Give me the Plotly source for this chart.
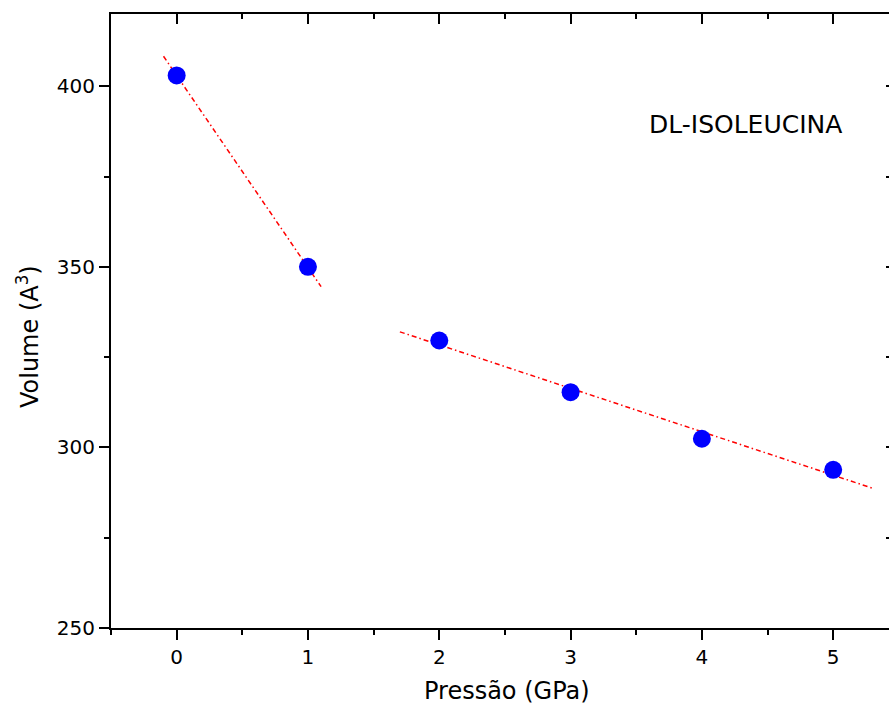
import plotly.graph_objects as go

# Data
pressure = [0, 1, 2, 3, 4, 5]
volume = [403.0, 350.0, 329.6, 315.3, 302.4, 293.8]

# Linear fit segments (endpoints)
fit1_x = [-0.1, 1.1]
fit1_y = [408.3, 344.5]
fit2_x = [1.7, 5.3]
fit2_y = [332.0, 288.7]

x_ticks = [0, 1, 2, 3, 4, 5]
y_ticks = [250, 300, 350, 400]

label_text = "DL-ISOLEUCINA"
x_title = "Pressão (GPa)"
y_title = "Volume (A<sup>3</sup>)"

FONT = "DejaVu Sans"
xr = [-0.5, 5.425]
yr = [250, 420]

fig = go.Figure()
line_style = dict(color="#FF0000", width=1.5, dash="5px,3px,1.5px,3px")
fig.add_trace(go.Scatter(x=fit1_x, y=fit1_y, mode="lines", line=line_style,
                         showlegend=False, hoverinfo="skip"))
fig.add_trace(go.Scatter(x=fit2_x, y=fit2_y, mode="lines", line=line_style,
                         showlegend=False, hoverinfo="skip"))
fig.add_trace(go.Scatter(x=pressure, y=volume, mode="markers",
                         marker=dict(color="#0000FF", size=18, line=dict(width=0)),
                         showlegend=False))
# invisible trace to anchor the mirror axes
fig.add_trace(go.Scatter(x=pressure[:1], y=volume[:1], mode="markers",
                         marker=dict(opacity=0), xaxis="x2", yaxis="y2",
                         showlegend=False, hoverinfo="skip"))

fig.add_annotation(x=4.33, y=389.5, xref="x", yref="y", text=label_text,
                   showarrow=False, font=dict(family=FONT, size=25, color="black"))
fig.add_annotation(x=(507 - 111) / 778, y=0, xref="paper", yref="paper",
                   text=x_title, showarrow=False, yanchor="middle", yshift=-63,
                   font=dict(family=FONT, size=24, color="black"))
fig.add_annotation(x=(28 - 111) / 778, y=(628 - 337) / 614, xref="paper", yref="paper",
                   text=y_title, showarrow=False, textangle=-90,
                   xanchor="center", yanchor="middle",
                   font=dict(family=FONT, size=24, color="black"))

axis_common = dict(showgrid=False, zeroline=False, linecolor="black", linewidth=2,
                   tickcolor="black", tickwidth=2)

fig.update_layout(
    width=889, height=704,
    margin=dict(l=111, r=0, t=14, b=76),
    paper_bgcolor="white", plot_bgcolor="white",
    font=dict(family=FONT, size=20, color="black"),
    xaxis=dict(range=xr, tickvals=x_ticks, ticks="outside", ticklen=10,
               showline=True, mirror=False,
               minor=dict(dtick=0.5, tick0=-0.5, ticks="outside", ticklen=5,
                          tickcolor="black", tickwidth=2),
               tickfont=dict(family=FONT, size=20), **axis_common),
    yaxis=dict(range=yr, tickvals=y_ticks, ticks="outside", ticklen=10,
               showline=True, mirror=False,
               minor=dict(dtick=25, tick0=250, ticks="outside", ticklen=5,
                          tickcolor="black", tickwidth=2),
               tickfont=dict(family=FONT, size=20), **axis_common),
    xaxis2=dict(range=xr, overlaying="x", side="top", anchor="y", tickvals=x_ticks,
                ticks="inside", ticklen=10, showline=True, showticklabels=False,
                minor=dict(dtick=0.5, tick0=-0.5, ticks="inside", ticklen=5,
                           tickcolor="black", tickwidth=2),
                **axis_common),
    yaxis2=dict(range=yr, overlaying="y", side="right", anchor="x", tickvals=y_ticks,
                ticks="inside", ticklen=3, showline=False, showticklabels=False,
                minor=dict(dtick=25, tick0=250, ticks="inside", ticklen=3,
                           tickcolor="black", tickwidth=2),
                **axis_common),
)

fig.write_html("out.html")
